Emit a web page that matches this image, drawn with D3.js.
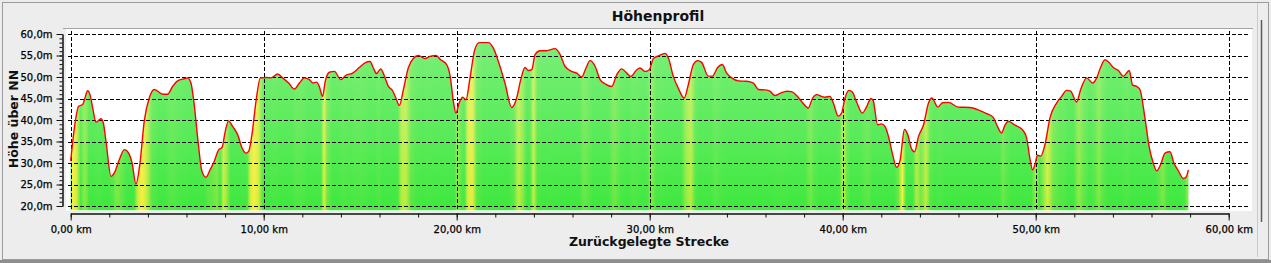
<!DOCTYPE html>
<html>
<head>
<meta charset="utf-8">
<script src="https://cdn.jsdelivr.net/npm/d3@7"></script>
<style>
  html, body { margin: 0; padding: 0; background: #ececec; }
  svg { display: block; font-family: "DejaVu Sans", sans-serif; }
</style>
</head>
<body>
<div id="chart"></div>
<script>
// elevation profile
const distanceKm = [
  0.00, 0.19, 0.41, 0.62, 0.71, 0.88, 1.00, 1.14, 1.31, 1.57, 1.69, 1.83, 2.09, 2.26, 2.52, 2.78,
  3.00, 3.18, 3.38, 3.59, 3.81, 4.07, 4.33, 4.77, 5.02, 5.28, 5.54, 5.89, 6.06, 6.23, 6.40, 6.58,
  6.80, 7.01, 7.22, 7.44, 7.67, 7.84, 8.01, 8.18, 8.39, 8.65, 8.88, 9.08, 9.22, 9.39, 9.60, 9.83,
  10.12, 10.38, 10.72, 10.98, 11.29, 11.59, 11.85, 12.11, 12.37, 12.54, 12.74, 12.88, 13.05, 13.19,
  13.40, 13.66, 14.00, 14.26, 14.61, 14.95, 15.25, 15.51, 15.68, 15.85, 16.06, 16.23, 16.46, 16.68,
  16.85, 17.03, 17.24, 17.49, 17.75, 18.01, 18.36, 18.62, 18.93, 19.17, 19.48, 19.66, 19.83, 19.96,
  20.13, 20.31, 20.48, 20.69, 20.94, 21.17, 21.64, 21.90, 22.21, 22.50, 22.85, 23.08, 23.32, 23.54,
  23.71, 23.89, 24.06, 24.32, 24.66, 25.09, 25.35, 25.61, 25.96, 26.22, 26.48, 26.70, 26.91, 27.17,
  27.43, 27.69, 28.03, 28.29, 28.55, 28.81, 29.02, 29.33, 29.50, 29.76, 29.98, 30.19, 30.45, 30.79,
  30.97, 31.22, 31.48, 31.79, 32.00, 32.26, 32.49, 32.69, 33.04, 33.25, 33.52, 33.76, 33.99, 34.25,
  34.59, 35.02, 35.37, 35.63, 35.98, 36.23, 36.49, 36.75, 37.10, 37.35, 37.61, 37.87, 38.22, 38.43,
  38.65, 38.91, 39.08, 39.34, 39.51, 39.77, 39.94, 40.12, 40.32, 40.50, 40.72, 41.02, 41.21, 41.47,
  41.58, 41.81, 42.02, 42.19, 42.37, 42.57, 42.80, 42.98, 43.20, 43.37, 43.55, 43.72, 43.93, 44.19,
  44.45, 44.62, 44.93, 45.17, 45.48, 45.99, 46.59, 47.11, 47.46, 47.80, 47.98, 48.23, 48.41, 48.58,
  48.93, 49.36, 49.53, 49.71, 49.84, 49.97, 50.09, 50.26, 50.48, 50.74, 51.09, 51.34, 51.60, 51.81,
  52.12, 52.33, 52.64, 52.95, 53.16, 53.36, 53.59, 53.81, 54.02, 54.28, 54.54, 54.85, 55.02, 55.23,
  55.40, 55.66, 55.89, 56.09, 56.27, 56.47, 56.70, 56.96, 57.16, 57.39, 57.65, 57.79, 57.91
];
const elevationM = [
  30.5, 38.1, 43.2, 43.6, 44.7, 46.8, 45.9, 42.8, 39.5, 40.3, 39.3, 35.0, 26.9, 27.7, 30.8, 33.1,
  32.3, 30.0, 25.1, 30.0, 39.7, 45.1, 47.1, 46.0, 46.0, 47.8, 49.1, 49.6, 49.8, 48.6, 43.6, 35.8,
  28.1, 26.7, 28.4, 30.4, 33.1, 33.6, 37.4, 39.8, 38.5, 36.6, 33.5, 32.3, 32.7, 36.6, 44.3, 49.8,
  49.9, 49.8, 50.7, 49.8, 48.6, 47.2, 48.6, 49.8, 49.4, 48.6, 48.8, 47.8, 45.5, 49.0,
  51.1, 51.3, 49.4, 50.4, 50.9, 52.2, 53.3, 53.6, 52.1, 50.8, 51.9, 50.5, 47.8, 46.8,
  45.1, 43.4, 47.1, 52.1, 54.3, 55.0, 54.3, 54.8, 55.0, 54.0, 52.9, 50.2, 44.3, 41.6,
  44.0, 45.3, 44.7, 49.8, 56.4, 58.0, 58.0, 56.7, 52.9, 48.6, 42.9, 44.7, 49.4, 52.2,
  51.5, 51.7, 55.2, 56.1, 56.1, 56.6, 55.3, 52.5, 51.3, 50.9, 50.0, 52.1, 53.8, 52.5,
  49.4, 48.4, 47.8, 50.5, 51.9, 50.9, 50.1, 51.7, 52.1, 51.3, 51.7, 54.3, 54.9, 55.5,
  54.4, 50.2, 47.4, 45.1, 48.2, 52.9, 53.8, 53.4, 50.2, 50.2, 52.2, 52.9, 50.9, 49.8,
  49.1, 49.0, 48.6, 47.1, 47.0, 46.7, 45.7, 46.2, 46.7, 46.6, 45.7, 44.3, 42.8, 45.0,
  45.9, 45.5, 45.3, 45.5, 44.0, 40.9, 41.6, 45.1, 46.9, 46.5, 44.2, 41.6, 42.8, 45.0,
  44.5, 38.9, 39.1, 38.5, 36.2, 32.3, 29.0, 30.8, 37.8, 36.6, 33.5, 32.6, 36.2, 38.9,
  44.0, 45.1, 43.0, 44.0, 44.1, 43.0, 42.9, 42.2, 41.5, 40.6, 38.9, 37.0, 38.8, 39.7,
  38.8, 37.5, 35.8, 30.8, 28.4, 29.8, 31.8, 31.6, 34.3, 40.5, 44.0, 45.5, 46.9, 46.7,
  44.2, 47.1, 49.8, 48.6, 49.8, 52.2, 54.0, 53.3, 52.2, 51.5, 50.2, 51.5, 48.1, 47.8,
  47.1, 40.5, 33.5, 30.0, 28.2, 29.6, 32.3, 32.6, 30.0, 28.2, 26.4, 26.7, 28.4
];
const xTicksKm = [0, 10, 20, 30, 40, 50, 60];
const yTicksM = [20, 25, 30, 35, 40, 45, 50, 55, 60];
const chartTitle = "Höhenprofil";
const xTitle = "Zurückgelegte Strecke";
const yTitle = "Höhe über NN";

const W = 1271, H = 263;
const plot = { left: 70.7, right: 1228.7, top: 34, bottom: 206 };

const svg = d3.select("#chart").append("svg")
    .attr("width", W)
    .attr("height", H);

// window chrome
svg.append("rect").attr("width", W).attr("height", H).attr("fill", "#ececec");
svg.append("rect").attr("x", 2.5).attr("y", 2.5).attr("width", W - 5).attr("height", H - 6)
    .attr("fill", "#ededed").attr("stroke", "#9b9b9b");
svg.append("rect").attr("x", 0).attr("y", H - 3).attr("width", W).attr("height", 3).attr("fill", "#8e8e8e");
svg.append("line").attr("x1", 1257.5).attr("x2", 1257.5).attr("y1", 3).attr("y2", H - 6)
    .attr("stroke", "#c9c9c9");
svg.append("line").attr("x1", 1261.5).attr("x2", 1261.5).attr("y1", 20).attr("y2", 222)
    .attr("stroke", "#5c5c5c").attr("stroke-width", 1.5);

// plot background
svg.append("line").attr("x1", 63).attr("x2", 1253).attr("y1", 28.5).attr("y2", 28.5).attr("stroke", "#a3a3a3");
svg.append("rect").attr("x", 66).attr("y", 29).attr("width", 1186).attr("height", 182).attr("fill", "#fff");

const x = d3.scaleLinear().domain([0, 60]).range([plot.left, plot.right]);
const y = d3.scaleLinear().domain([20, 60]).range([plot.bottom, plot.top]);

const pts = distanceKm.map((d, i) => ({ d: d, h: elevationM[i] }));

// colour along the track from climbing rate (m per km), descents stay green
const climbColor = d3.scaleLinear()
    .domain([0, 8, 18, 30])
    .range(["#3fe83f", "#55e843", "#b4ec3c", "#f6ef3a"])
    .clamp(true);
const defs = svg.append("defs");
const grad = defs.append("linearGradient").attr("id", "slopeFill")
    .attr("gradientUnits", "userSpaceOnUse")
    .attr("x1", x(distanceKm[0])).attr("x2", x(distanceKm[distanceKm.length - 1]))
    .attr("y1", 0).attr("y2", 0);
const span = distanceKm[distanceKm.length - 1] - distanceKm[0];
grad.append("stop").attr("offset", 0).attr("stop-color", climbColor(0));
pts.slice(1).forEach((p, i) => {
  const q = pts[i];
  const climb = Math.max(0, (p.h - q.h) / (p.d - q.d));
  grad.append("stop")
      .attr("offset", ((q.d + p.d) / 2 - distanceKm[0]) / span)
      .attr("stop-color", climbColor(climb));
});
grad.append("stop").attr("offset", 1).attr("stop-color", climbColor(0));

const shade = defs.append("linearGradient").attr("id", "shade")
    .attr("x1", 0).attr("x2", 0).attr("y1", 0).attr("y2", 1);
shade.append("stop").attr("offset", 0).attr("stop-color", "#fff").attr("stop-opacity", 0.3);
shade.append("stop").attr("offset", 1).attr("stop-color", "#fff").attr("stop-opacity", 0);

const baseM = 19;
const area = d3.area()
    .x(p => x(p.d))
    .y0(y(baseM))
    .y1(p => y(p.h))
    .curve(d3.curveMonotoneX);
const line = d3.line()
    .x(p => x(p.d))
    .y(p => y(p.h))
    .curve(d3.curveMonotoneX);

svg.append("path").datum(pts).attr("d", area).attr("fill", "url(#slopeFill)");
svg.append("path").datum(pts).attr("d", area).attr("fill", "url(#shade)");

// dashed grid
const grid = svg.append("g").attr("stroke", "#000").attr("stroke-dasharray", "4,2").attr("fill", "none");
grid.selectAll("line.h").data(yTicksM).enter().append("line")
    .attr("x1", 68).attr("x2", 1250)
    .attr("y1", d => Math.round(y(d)) + 0.5).attr("y2", d => Math.round(y(d)) + 0.5);
grid.selectAll("line.v").data(xTicksKm).enter().append("line")
    .attr("x1", d => Math.round(x(d)) + 0.5).attr("x2", d => Math.round(x(d)) + 0.5)
    .attr("y1", 31).attr("y2", 210);

svg.append("path").datum(pts).attr("d", line)
    .attr("fill", "none").attr("stroke", "#ff0000").attr("stroke-width", 1.4);

// axes
const fmtKm = d => d3.format(".2f")(d).replace(".", ",") + " km";
const fmtM = d => d3.format(".1f")(d).replace(".", ",") + "m";

const yAxisX = 62.5;
svg.append("g").attr("transform", "translate(" + yAxisX + ",0)")
    .call(d3.axisLeft(y).tickValues(d3.range(20, 61, 1)).tickSize(3).tickSizeOuter(0).tickFormat(""));
svg.append("g").attr("transform", "translate(" + yAxisX + ",0)")
    .call(d3.axisLeft(y).tickValues(yTicksM).tickSize(6).tickSizeOuter(0).tickPadding(4).tickFormat(fmtM));

const xAxisY = 213.5;
svg.append("g").attr("transform", "translate(0," + xAxisY + ")")
    .call(d3.axisBottom(x).tickValues(d3.range(0, 61, 2)).tickSize(4).tickSizeOuter(0).tickFormat(""));
svg.append("g").attr("transform", "translate(0," + xAxisY + ")")
    .call(d3.axisBottom(x).tickValues(xTicksKm).tickSize(7).tickSizeOuter(0).tickPadding(5).tickFormat(fmtKm));

svg.selectAll(".tick text").attr("font-size", 10).attr("fill", "#000")
    .attr("stroke", "#000").attr("stroke-width", 0.25).attr("font-family", "DejaVu Sans");
svg.selectAll(".domain, .tick line").attr("stroke", "#111");

// titles
svg.append("text").attr("x", 658).attr("y", 20.5).attr("text-anchor", "middle")
    .attr("font-size", 14).attr("font-weight", "bold").attr("fill", "#111").text(chartTitle);
svg.append("text").attr("x", 649).attr("y", 246).attr("text-anchor", "middle")
    .attr("font-size", 12.5).attr("font-weight", "bold").attr("fill", "#111").text(xTitle);
svg.append("text").attr("transform", "translate(17.5,119) rotate(-90)").attr("text-anchor", "middle")
    .attr("font-size", 12.5).attr("font-weight", "bold").attr("fill", "#111").text(yTitle);
</script>
</body>
</html>
